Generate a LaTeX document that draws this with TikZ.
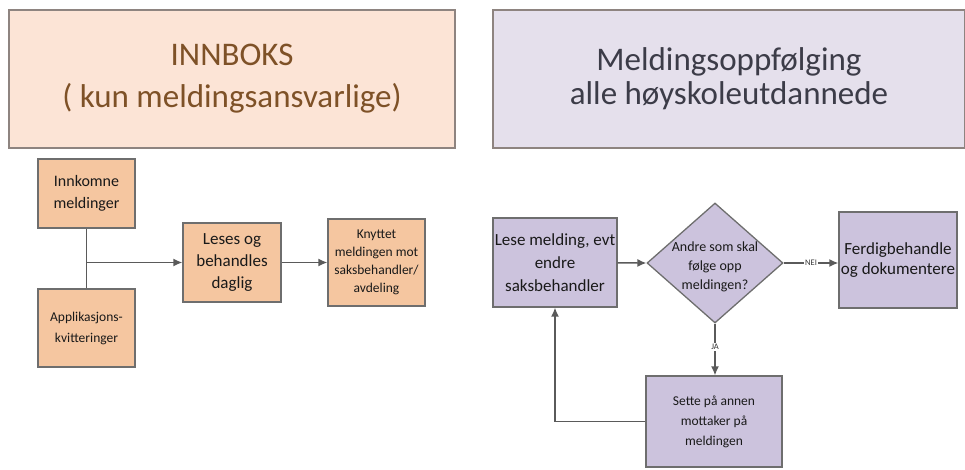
\documentclass[tikz,border=0pt]{standalone}
\usepackage{fontspec}
\setmainfont{Carlito}
\usetikzlibrary{shapes.geometric,arrows.meta}
\definecolor{hdrpeach}{HTML}{FCE4D6}
\definecolor{hdrlilac}{HTML}{E5E0EC}
\definecolor{peachfill}{HTML}{F5C6A0}
\definecolor{lilacfill}{HTML}{CCC3DD}
\definecolor{boxline}{HTML}{6E6E6E}
\definecolor{hdrline}{HTML}{8E8480}
\definecolor{connline}{HTML}{5A5A5A}
\definecolor{browntext}{HTML}{7E5127}
\definecolor{greytext}{HTML}{3C3C48}

\begin{document}
\begin{tikzpicture}[x=1pt,y=-1pt,
  box/.style={draw=boxline,line width=1.3pt,inner sep=0pt,align=center,text=black!90},
  peach/.style={box,fill=peachfill},
  lilac/.style={box,fill=lilacfill},
  hdr/.style={draw=hdrline,line width=1.2pt,inner sep=0pt,align=center,minimum width=#1,minimum height=138pt},
  link/.style={draw=connline,line width=1.4pt,-{Latex[length=9pt,width=8pt]}},
  edgelabel/.style={fill=white,inner sep=1pt,font=\fontsize{8.5}{9}\selectfont,text=black!80}]
\useasboundingbox (0,0) rectangle (965,470);
\node[hdr=446pt,fill=hdrpeach,text=browntext,font=\fontsize{33}{42}\selectfont] (innboks) at (232,79) {INNBOKS\\( kun meldingsansvarlige)};
\node[hdr=472pt,fill=hdrlilac,text=greytext,font=\fontsize{33}{34}\selectfont] (oppf) at (729,79) {Meldingsoppfølging\\alle høyskoleutdannede};
\node[peach,minimum width=97pt,minimum height=69pt,font=\fontsize{16}{22}\selectfont] (inn) at (86.5,193.5) {Innkomne\\meldinger};
\node[peach,minimum width=97pt,minimum height=78pt,font=\fontsize{13.5}{21}\selectfont] (app) at (86.5,328) {Applikasjons-\\kvitteringer};
\node[peach,minimum width=98pt,minimum height=79pt,font=\fontsize{17}{22}\selectfont] (les) at (232,262.5) {Leses og\\behandles\\daglig};
\node[peach,minimum width=97pt,minimum height=87pt,font=\fontsize{13.5}{18}\selectfont] (kny) at (376.5,262.5) {Knyttet\\meldingen mot\\saksbehandler/\\avdeling};
\node[lilac,minimum width=124pt,minimum height=89pt,font=\fontsize{17}{23}\selectfont] (lese) at (555,262.5) {Lese melding, evt\\endre\\saksbehandler};
\node[diamond,draw=boxline,line width=1.3pt,fill=lilacfill,inner sep=0pt,minimum width=136pt,minimum height=120pt] (dia) at (715,263) {};
\node[align=center,text=black!90,font=\fontsize{14}{19}\selectfont] (diatext) at (715,267) {Andre som skal\\følge opp\\meldingen?};
\node[lilac,minimum width=118pt,minimum height=96pt,font=\fontsize{17}{20}\selectfont] (fer) at (898,260) {Ferdigbehandle\\og dokumentere};
\node[lilac,minimum width=136pt,minimum height=91pt,font=\fontsize{13.5}{20}\selectfont] (set) at (714,421.5) {Sette på annen\\mottaker på\\meldingen};
\draw[draw=connline,line width=1.4pt] (inn) -- (app);
\draw[link] (inn.south |- les.west) -- (les.west);
\draw[link] (les) -- (kny);
\draw[link] (lese) -- (dia.west);
\draw[link] (dia.east) -- node[edgelabel]{NEI} (dia.east -| fer.west);
\draw[link] (dia.south) -- node[edgelabel,pos=0.45]{JA} (dia.south |- set.north);
\draw[link] (set.west) -| (lese.south);
\end{tikzpicture}
\end{document}
